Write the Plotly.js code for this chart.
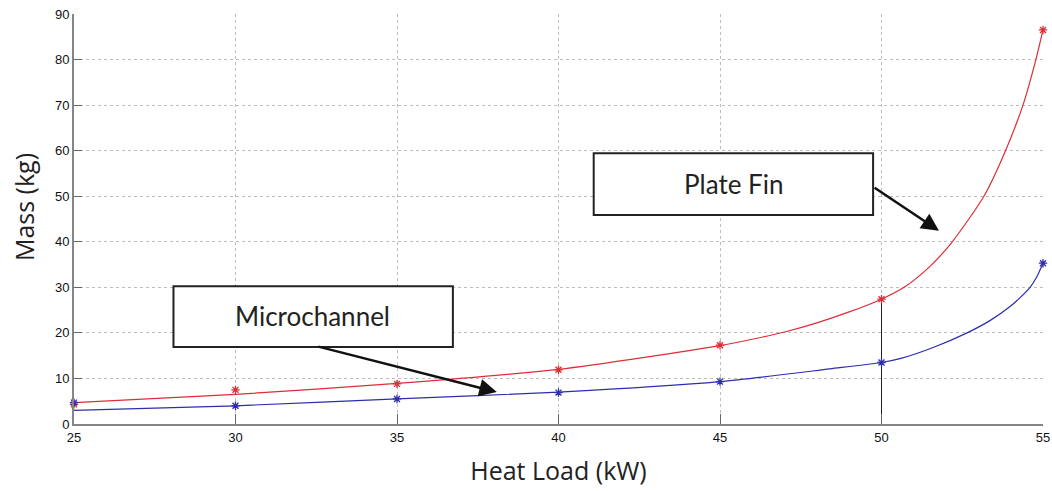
<!DOCTYPE html>
<html>
<head>
<meta charset="utf-8">
<script src="https://cdn.plot.ly/plotly-3.0.1.min.js"></script>
<style>html,body{margin:0;padding:0;background:#fff;}#chart{width:1052px;height:491px;}</style>
</head>
<body>
<div id="chart"></div>
<script>
// Measured points (markers)
const heatLoad = [25, 30, 35, 40, 45, 50, 55];
const plateFinMass = [4.3, 7.5, 8.8, 11.9, 17.3, 27.4, 86.5];
const microchannelMass = [4.7, 4.0, 5.5, 6.9, 9.3, 13.5, 35.3];

// Fitted curves
const plateFinCurveX = [25, 30, 35, 40, 45, 46, 47, 48, 49, 50, 50.7, 51.5, 52.19, 53.17, 53.84, 54.38, 54.78, 55];
const plateFinCurveY = [4.7, 6.5, 8.9, 12.0, 17.2, 18.6, 20.2, 22.2, 24.6, 27.4, 30, 34.6, 40, 50, 60, 70, 80, 86.5];
const microCurveX = [25, 30, 35, 40, 45, 48.4, 50, 50.6, 51.6, 52.65, 53.38, 54.0, 54.3, 54.6, 54.8, 55];
const microCurveY = [3.0, 4.0, 5.5, 7.0, 9.3, 12.1, 13.5, 14.4, 16.8, 20, 22.8, 25.9, 27.8, 30, 32.2, 35.3];

const xTicks = [25, 30, 35, 40, 45, 50, 55];
const yTicks = [0, 10, 20, 30, 40, 50, 60, 70, 80, 90];

const labelPlate = "Plate Fin";
const labelMicro = "Microchannel";
const xTitle = "Heat Load (kW)";
const yTitle = "Mass (kg)";

const red = "rgb(222,45,55)";
const blue = "rgb(45,45,175)";

const traces = [
  {x: [heatLoad[5], heatLoad[5]], y: [0, plateFinMass[5]], mode: "lines",
   line: {color: "#222", width: 1}, hoverinfo: "skip", showlegend: false},
  {x: plateFinCurveX, y: plateFinCurveY, mode: "lines",
   line: {color: red, width: 1.2, shape: "spline", smoothing: 0.7}, showlegend: false},
  {x: microCurveX, y: microCurveY, mode: "lines",
   line: {color: blue, width: 1.2, shape: "spline", smoothing: 0.7}, showlegend: false},
  {x: heatLoad, y: plateFinMass, mode: "markers", cliponaxis: false,
   marker: {symbol: "asterisk-open", size: 7, color: red, line: {color: red, width: 1.3}}, showlegend: false},
  {x: heatLoad, y: microchannelMass, mode: "markers", cliponaxis: false,
   marker: {symbol: "asterisk-open", size: 7, color: blue, line: {color: blue, width: 1.3}}, showlegend: false}
];

const layout = {
  width: 1052, height: 491,
  margin: {l: 74, r: 9, t: 14, b: 67},
  paper_bgcolor: "#fff", plot_bgcolor: "#fff",
  showlegend: false,
  xaxis: {
    range: [25, 55], tickvals: xTicks, ticktext: xTicks.map(String),
    showline: true, linecolor: "#858585", linewidth: 2,
    ticks: "inside", ticklen: 10, tickcolor: "#666", tickwidth: 1,
    showgrid: true, gridcolor: "#bdbdbd", griddash: "dot", gridwidth: 1,
    zeroline: false,
    tickfont: {family: "Liberation Sans, Arial, sans-serif", size: 13, color: "#111"},
    title: {text: xTitle, standoff: 19,
            font: {family: "Open Sans, sans-serif", size: 25, color: "#222"}}
  },
  yaxis: {
    range: [0, 90], tickvals: yTicks, ticktext: yTicks.map(String),
    showline: true, linecolor: "#858585", linewidth: 2,
    ticks: "inside", ticklen: 8, tickcolor: "#666", tickwidth: 1,
    showgrid: true, gridcolor: "#bdbdbd", griddash: "dot", gridwidth: 1,
    zeroline: false,
    tickfont: {family: "Liberation Sans, Arial, sans-serif", size: 13, color: "#111"}
  },
  shapes: [
    {type: "rect", xref: "x", yref: "y", x0: 41.09, x1: 49.74, y0: 45.88, y1: 59.46,
     line: {color: "#222", width: 2}, fillcolor: "#fff", layer: "above"},
    {type: "rect", xref: "x", yref: "y", x0: 28.08, x1: 36.73, y0: 16.9, y1: 30.26,
     line: {color: "#222", width: 2}, fillcolor: "#fff", layer: "above"}
  ],
  annotations: [
    {x: -0.0516, y: 0.529, xref: "paper", yref: "paper", text: yTitle, textangle: -90,
     showarrow: false, xanchor: "center", yanchor: "middle",
     font: {family: "Open Sans, sans-serif", size: 25, color: "#222"}},
    {x: 45.41, y: 52.7, xref: "x", yref: "y", text: labelPlate, showarrow: false,
     font: {family: "Lato, sans-serif", size: 26, color: "#222"}},
    {x: 32.37, y: 23.6, xref: "x", yref: "y", text: labelMicro, showarrow: false,
     font: {family: "Lato, sans-serif", size: 26, color: "#222"}},
    {x: 51.78, y: 42.4, ax: 49.74, ay: 52.1, xref: "x", yref: "y", axref: "x", ayref: "y",
     text: "", showarrow: true, arrowhead: 2, arrowsize: 1.4, arrowwidth: 2.5, arrowcolor: "#111"},
    {x: 38.09, y: 7.0, ax: 32.52, ay: 17.06, xref: "x", yref: "y", axref: "x", ayref: "y",
     text: "", showarrow: true, arrowhead: 2, arrowsize: 1.4, arrowwidth: 2.5, arrowcolor: "#111"}
  ]
};

Plotly.newPlot("chart", traces, layout, {displayModeBar: false, staticPlot: true});
</script>
</body>
</html>
